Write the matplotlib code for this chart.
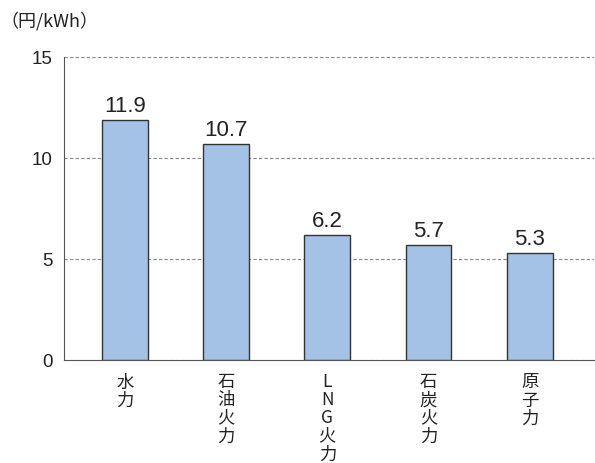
import matplotlib
matplotlib.use('Agg')
from matplotlib import pyplot as plt

plt.rcParams['font.family'] = ['Liberation Sans', 'Noto Sans CJK JP']

# data
categories = ['水\n力', '石\n油\n火\n力', 'L\nN\nG\n火\n力', '石\n炭\n火\n力', '原\n子\n力']
values = [11.9, 10.7, 6.2, 5.7, 5.3]
yticks = [0, 5, 10, 15]

fig = plt.figure(figsize=(5.95, 4.64), dpi=100)
ax = fig.add_axes([0.1076, 0.222, 0.89, 0.653])

x = list(range(len(values)))
ax.bar(x, values, width=0.45, color='#a4c2e6', edgecolor='#333333', linewidth=1, zorder=3)

for xi, v in zip(x, values):
    ax.text(xi, v + 0.18, f'{v}', ha='center', va='bottom', fontsize=16, color='#222222')

ax.set_xlim(-0.6, 4.63)
ax.set_ylim(0, 15)
ax.set_yticks(yticks)
ax.set_yticklabels([str(t) for t in yticks], fontsize=13.5, color='#222222')
ax.yaxis.grid(True, linestyle=(0, (3, 2)), color='#888888', linewidth=0.8, zorder=0)

ax.set_xticks(x)
ax.set_xticklabels(categories, fontsize=12.5, linespacing=1.0, va='top', color='#222222',
                   family=['Noto Sans CJK JP', 'DejaVu Sans'])
ax.tick_params(axis='x', length=0, pad=9)
ax.tick_params(axis='y', length=0, pad=8)

for s in ['top', 'right']:
    ax.spines[s].set_visible(False)
ax.spines['left'].set_color('#555555')
ax.spines['bottom'].set_color('#555555')

fig.text(0.0, 0.955, '（円/kWh）', fontsize=13, color='#222222', va='center',
         family=['Noto Sans CJK JP', 'DejaVu Sans'])

fig.savefig('out.png', dpi=100)
